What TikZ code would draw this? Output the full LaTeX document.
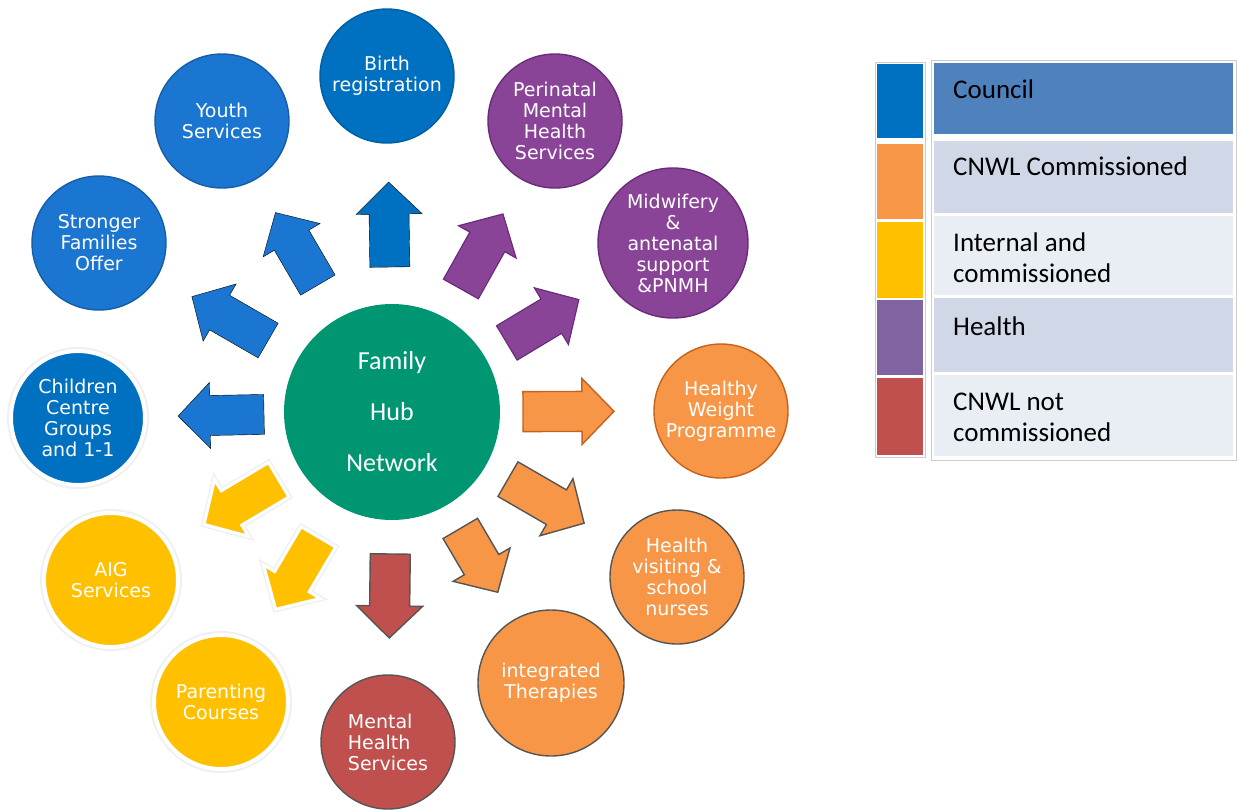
\documentclass[tikz,border=0pt]{standalone}
\usepackage{fontspec}
\setmainfont{Carlito}
\newfontfamily\svcfont{DejaVu Sans}
\usetikzlibrary{calc}

\definecolor{hubgreen}{RGB}{0,150,114}
\definecolor{councilblue}{RGB}{0,112,192}
\definecolor{lightblue}{RGB}{26,118,208}
\definecolor{healthpurple}{RGB}{138,68,151}
\definecolor{purpleedge}{RGB}{106,44,122}
\definecolor{cnwlorange}{RGB}{246,150,70}
\definecolor{orangeedge}{RGB}{196,98,30}
\definecolor{intyellow}{RGB}{255,192,0}
\definecolor{notred}{RGB}{192,80,77}
\definecolor{greyedge}{RGB}{85,85,85}
\definecolor{legpurple}{RGB}{128,100,162}
\definecolor{legheader}{RGB}{79,129,189}
\definecolor{legdark}{RGB}{208,216,232}
\definecolor{leglight}{RGB}{233,237,244}

% block arrow from tail #2 to tip #3
\newcommand{\blockarrow}[3]{%
  \path (#2) coordinate (ta) (#3) coordinate (tb);
  \path ($(tb)!32pt!(ta)$) coordinate (hb);
  \draw[#1] ($(ta)!20pt!90:(tb)$) -- ($(hb)!20pt!90:(tb)$) -- ($(hb)!33pt!90:(tb)$)
    -- (tb) -- ($(hb)!33pt!-90:(tb)$) -- ($(hb)!20pt!-90:(tb)$) -- ($(ta)!20pt!-90:(tb)$) -- cycle;
}

\begin{document}
\begin{tikzpicture}[x=1pt,y=-1pt,
    svc/.style={circle, minimum size=134pt, inner sep=0pt, text=white, align=center,
      font=\svcfont\fontsize{19}{21}\selectfont, line width=1.4pt},
    glow/.style={draw=white, line width=4pt, preaction={draw=black!6, line width=8pt}},
    councilc/.style={svc, fill=councilblue, draw=councilblue!85!black},
    bluec/.style={svc, fill=lightblue, draw=lightblue!80!black},
    purplec/.style={svc, fill=healthpurple, draw=purpleedge},
    orangec/.style={svc, fill=cnwlorange, draw=greyedge},
    yellowc/.style={svc, fill=intyellow, glow},
    redc/.style={svc, fill=notred, draw=greyedge},
    darkarrow/.style={fill=councilblue},
    bluearrow/.style={fill=lightblue},
    yelarrow/.style={fill=intyellow, draw=white, line width=3pt, preaction={draw=black!6, line width=6pt}},
    redarrow/.style={fill=notred, draw=greyedge, line width=1.4pt},
    orgarrow/.style={fill=cnwlorange, draw=greyedge, line width=1.4pt},
    wgtarrow/.style={fill=cnwlorange, draw=orangeedge, line width=1.4pt},
    purarrow/.style={fill=healthpurple, draw=purpleedge, line width=1.2pt},
    legtext/.style={font=\fontsize{27}{31}\selectfont, inner sep=0pt, align=left}]
    \useasboundingbox (0,0) rectangle (1237,809);
    % centre
    \node[circle, minimum size=216pt, fill=hubgreen, text=white, align=center,
      font=\fontsize{26}{51}\selectfont] (hub) at (392,412) {Family\\Hub\\Network};
    % services
    \node[councilc] (birth) at (387,76) {Birth\\registration};
    \node[bluec] (youth) at (222,121) {Youth\\Services};
    \node[bluec] (stronger) at (99,243) {Stronger\\Families\\Offer};
    \node[councilc, glow] (children) at (78,418) {Children\\Centre\\Groups\\and 1-1};
    \node[yellowc] (aig) at (111,580) {AIG\\Services};
    \node[yellowc] (parenting) at (221,702) {Parenting\\Courses};
    \node[redc, align=left] (mental) at (388,742) {Mental\\Health\\Services};
    \node[orangec, minimum size=146pt] (integrated) at (551,683) {integrated\\Therapies};
    \node[orangec] (visiting) at (677,577) {Health\\visiting \&\\school\\nurses};
    \node[orangec, draw=orangeedge] (weight) at (721,411) {Healthy\\Weight\\Programme};
    \node[purplec, minimum size=150pt] (midwifery) at (673,243) {Midwifery\\\&\\antenatal\\support\\\&PNMH};
    \node[purplec] (perinatal) at (555,121) {Perinatal\\Mental\\Health\\Services};
    % arrows out of the hub
    \foreach \tgt/\sty/\dt/\dh in {birth/darkarrow/145/230, youth/bluearrow/147/231,
        stronger/bluearrow/143/231, children/bluearrow/128/214, aig/yelarrow/132/219,
        parenting/yelarrow/145/229, mental/redarrow/142/226, integrated/orgarrow/135/209,
        visiting/orgarrow/134/222, weight/wgtarrow/131/222, midwifery/purarrow/134/218,
        perinatal/purarrow/141/227}
      \blockarrow{\sty}{$(hub)!\dt pt!(\tgt)$}{$(hub)!\dh pt!(\tgt)$};
    % legend swatches
    \draw[black!20] (875,62) rectangle (925,457);
    \fill[councilblue] (877,64) rectangle (923,138);
    \fill[cnwlorange] (877,144) rectangle (923,219);
    \fill[intyellow] (877,222) rectangle (923,298);
    \fill[legpurple] (877,300) rectangle (923,375);
    \fill[notred] (877,378) rectangle (923,455);
    % legend table
    \draw[black!20] (931,60) rectangle (1236,460);
    \fill[legheader] (934,63) rectangle (1233,134);
    \fill[legdark] (934,141) rectangle (1233,213);
    \fill[leglight] (934,216) rectangle (1233,295);
    \fill[legdark] (934,298) rectangle (1233,372);
    \fill[leglight] (934,375) rectangle (1233,456);
    \node[legtext, anchor=base west] (lcouncil) at (953,98) {Council};
    \node[legtext, anchor=base west] (lcomm) at (953,175) {CNWL Commissioned};
    \node[legtext, anchor=base west] (lint) at (953,282) {Internal and\\commissioned};
    \node[legtext, anchor=base west] (lhealth) at (953,335) {Health};
    \node[legtext, anchor=base west] (lnot) at (953,441) {CNWL not\\commissioned};
\end{tikzpicture}
\end{document}
